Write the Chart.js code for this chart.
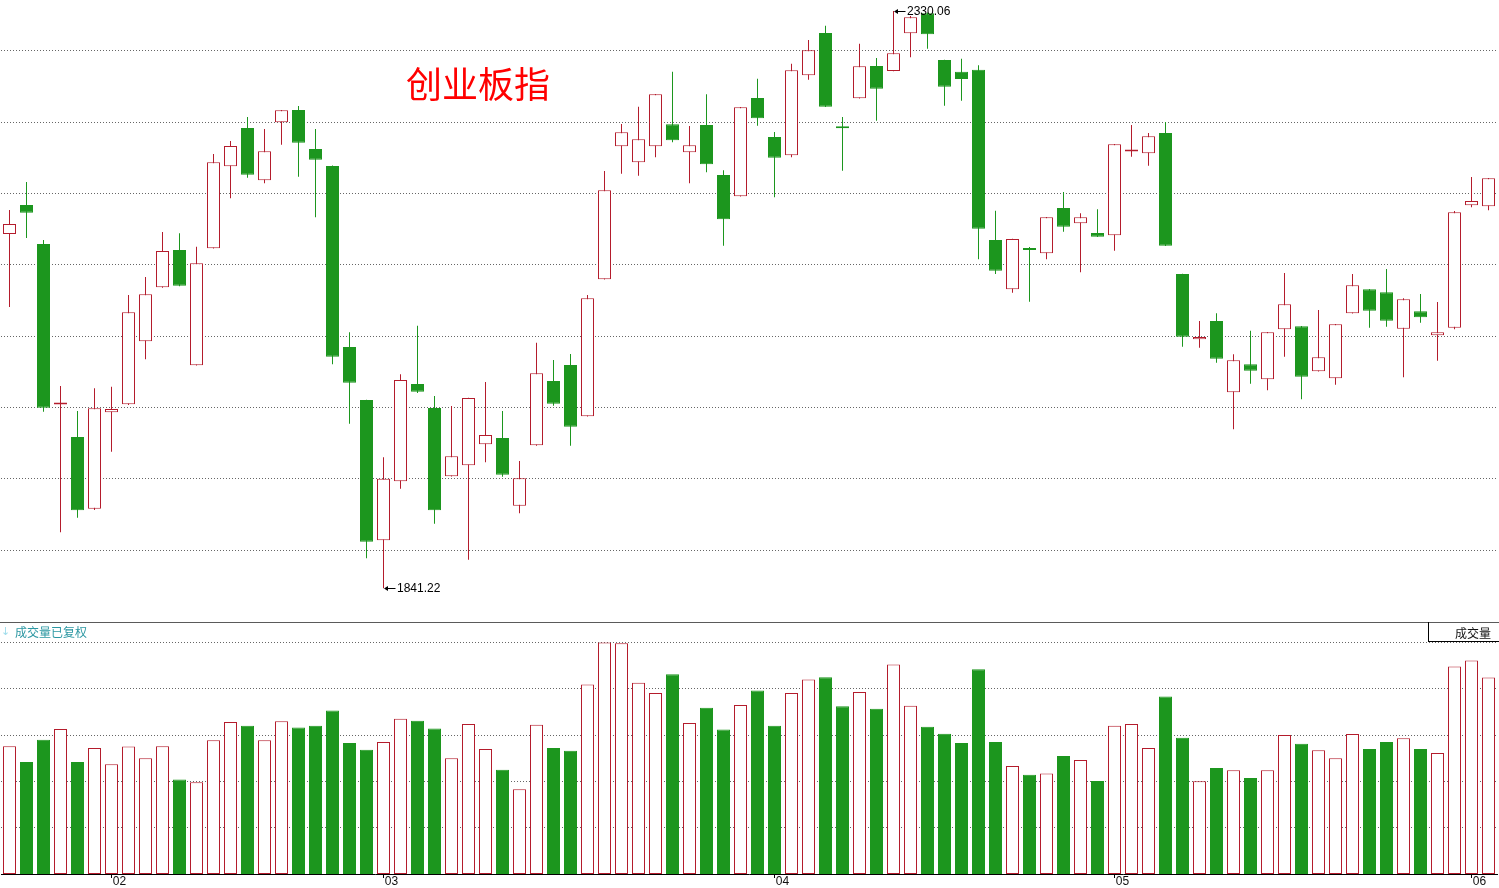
<!DOCTYPE html>
<html>
<head>
<meta charset="utf-8">
<title>创业板指</title>
<script src="https://cdn.jsdelivr.net/npm/chart.js@4/dist/chart.umd.min.js"></script>
<style>
  body { margin: 0; background: #fff; }
  #wrap { position: relative; width: 1499px; height: 888px; overflow: hidden; }
  #price { position: absolute; left: 0; top: 0; }
  #vol { position: absolute; left: 0; top: 622px; }
  #sep { position: absolute; left: 0; top: 622px; width: 1499px; height: 1px; background: #5a5a5a; }
  #title { position: absolute; left: 406px; top: 64px; font: 36px/36px "Noto Sans CJK SC"; color: #f00; white-space: nowrap; }
  #volname { position: absolute; left: 15px; top: 626px; font: 12px/12px "Noto Sans CJK SC"; color: #2b97a2; white-space: nowrap; }
  #volicon { position: absolute; left: 1px; top: 626px; font: 11px/12px "DejaVu Sans"; color: #9fdceb; }
  #volbox { position: absolute; left: 1428px; top: 622px; width: 71px; height: 20px; box-sizing: border-box;
            border-left: 1px solid #000; border-bottom: 1px solid #000; }
  #volbox span { position: absolute; right: 8px; top: 5px; font: 12px/12px "Noto Sans CJK SC"; color: #111; }
</style>
</head>
<body>
<div id="wrap">
  <canvas id="price" width="1499" height="622"></canvas>
  <canvas id="vol" width="1499" height="266"></canvas>
  <div id="sep"></div>
  <div id="title">创业板指</div>
  <div id="volicon">↓</div>
  <div id="volname">成交量已复权</div>
  <div id="volbox"><span>成交量</span></div>
</div>
<script>
// daily candles
var opens = [2141.2, 2165.8, 2132.8, 1996.8, 1969.3, 1908.6, 1990.2, 1997.0, 2050.4, 2096.1,
  2127.7, 2030.0, 2129.1, 2198.6, 2231.0, 2186.7, 2235.8, 2246.2, 2213.2, 2198.8,
  2045.5, 2000.6, 1881.8, 1931.8, 2014.2, 1993.9, 1936.0, 1945.4, 1963.1, 1968.5,
  1911.1, 1962.3, 2016.7, 2030.3, 1986.9, 2102.9, 2215.5, 2201.9, 2215.5, 2234.1,
  2210.4, 2233.5, 2191.2, 2173.1, 2256.4, 2223.4, 2207.9, 2275.6, 2311.4, 2231.2,
  2256.1, 2283.5, 2279.3, 2311.2, 2328.1, 2288.6, 2278.7, 2280.4, 2136.1, 2094.4,
  2128.1, 2124.9, 2163.2, 2150.3, 2142.1, 2140.1, 2211.0, 2209.6, 2226.8, 2107.4,
  2052.1, 2067.6, 2007.2, 2030.9, 2018.2, 2060.5, 2063.1, 2025.0, 2019.0, 2074.1,
  2094.4, 2091.9, 2061.0, 2075.8, 2055.4, 2061.9, 2165.5, 2164.7];

var highs = [2161.5, 2185.3, 2136.1, 2012.5, 1991.3, 2010.6, 2011.9, 2089.6, 2104.8, 2142.9,
  2141.8, 2130.5, 2209.0, 2220.0, 2240.3, 2230.1, 2246.2, 2249.6, 2230.1, 2199.2,
  2058.0, 2000.9, 1952.1, 2022.4, 2063.6, 2004.0, 1995.6, 2002.6, 2015.9, 1991.3,
  1949.0, 2049.2, 2034.5, 2039.6, 2089.6, 2194.6, 2234.4, 2249.0, 2259.7, 2278.7,
  2232.7, 2259.5, 2195.2, 2248.8, 2272.7, 2227.6, 2285.4, 2305.5, 2317.6, 2240.3,
  2302.4, 2290.3, 2330.06, 2325.8, 2328.8, 2288.8, 2289.7, 2284.1, 2161.0, 2137.2,
  2130.2, 2155.6, 2176.8, 2158.8, 2162.1, 2217.4, 2233.5, 2226.8, 2236.1, 2107.6,
  2067.6, 2074.1, 2039.4, 2059.3, 2058.2, 2108.2, 2063.3, 2076.9, 2065.0, 2107.4,
  2094.6, 2111.6, 2086.8, 2090.4, 2083.6, 2160.7, 2189.5, 2188.6];

var lows = [2079.4, 2137.8, 1990.7, 1888.6, 1901.0, 1907.5, 1956.9, 1996.5, 2035.1, 2095.8,
  2097.0, 2029.8, 2128.9, 2171.5, 2188.9, 2184.2, 2216.8, 2189.7, 2155.4, 2030.9,
  1980.6, 1866.6, 1841.22, 1925.5, 2006.6, 1895.9, 1935.8, 1865.4, 1947.9, 1935.7,
  1904.7, 1962.0, 1995.8, 1962.0, 1986.6, 2102.6, 2192.3, 2190.6, 2206.2, 2218.9,
  2184.2, 2193.5, 2131.3, 2172.9, 2232.9, 2172.3, 2206.2, 2271.9, 2248.8, 2194.8,
  2255.9, 2237.2, 2279.0, 2290.9, 2298.1, 2249.9, 2254.1, 2119.8, 2107.4, 2091.5,
  2083.9, 2119.8, 2143.2, 2108.8, 2138.7, 2127.1, 2206.7, 2199.1, 2131.1, 2045.8,
  2044.9, 2032.2, 1975.8, 2014.5, 2008.9, 2037.3, 2001.2, 2024.7, 2013.6, 2073.9,
  2061.9, 2062.7, 2019.9, 2066.1, 2033.9, 2060.5, 2163.8, 2161.3];

var closes = [2149.7, 2159.3, 1994.1, 1997.3, 1907.3, 1993.6, 1993.0, 2074.9, 2090.2, 2126.8,
  2097.4, 2116.4, 2201.9, 2215.7, 2191.4, 2211.3, 2246.0, 2218.5, 2204.1, 2037.3,
  2015.3, 1880.7, 1934.0, 2017.6, 2007.7, 1907.3, 1953.0, 2002.4, 1971.0, 1937.4,
  1934.4, 2023.3, 1997.5, 1978.0, 2086.8, 2178.2, 2227.3, 2221.4, 2259.5, 2220.6,
  2216.3, 2200.2, 2153.7, 2248.5, 2239.2, 2205.8, 2279.8, 2296.8, 2249.0, 2230.8,
  2283.2, 2264.3, 2294.2, 2324.7, 2310.3, 2266.0, 2272.5, 2145.7, 2110.1, 2137.0,
  2127.7, 2155.4, 2147.4, 2155.4, 2138.9, 2217.2, 2211.4, 2224.0, 2131.3, 2054.3,
  2054.0, 2035.6, 2034.3, 2025.5, 2058.0, 2081.7, 2020.4, 2036.8, 2064.8, 2097.8,
  2076.3, 2067.8, 2085.9, 2070.7, 2058.0, 2159.6, 2169.2, 2188.4];

var volumes = [2.76, 2.42, 2.90, 3.13, 2.42, 2.72, 2.37, 2.75, 2.50, 2.76,
  2.04, 1.98, 2.89, 3.28, 3.20, 2.89, 3.30, 3.16, 3.20, 3.53,
  2.83, 2.68, 2.85, 3.35, 3.31, 3.14, 2.50, 3.24, 2.70, 2.25,
  1.83, 3.22, 2.72, 2.66, 4.09, 5.00, 4.98, 4.13, 3.91, 4.31,
  3.26, 3.59, 3.12, 3.65, 3.96, 3.20, 3.91, 4.20, 4.25, 3.62,
  3.93, 3.57, 4.52, 3.63, 3.18, 3.03, 2.83, 4.42, 2.85, 2.33,
  2.14, 2.17, 2.55, 2.46, 2.01, 3.20, 3.24, 2.72, 3.83, 2.94,
  2.00, 2.29, 2.24, 2.07, 2.24, 3.00, 2.81, 2.67, 2.50, 3.02,
  2.70, 2.85, 2.93, 2.70, 2.61, 4.48, 4.61, 4.24];

// month marks on the bottom axis (candle index -> label)
var tickIndex = [6, 22, 45, 65, 86];
var tickText = ['02', '03', '04', '05', '06'];

// unlabelled price grid levels and volume grid levels
var priceGrid = [2296.2, 2235.8, 2175.4, 2115.1, 2054.7, 1994.3, 1933.9, 1873.6];
var volGrid = [1, 2, 3, 4, 5];

var RED = '#b41c2c';
var GREEN = '#1c961e';
var GRID = '#666666';

Chart.defaults.font.family = '"Liberation Sans", Arial, sans-serif';
Chart.defaults.animation = false;

var days = opens.map(function(o, i) { return i; });
var up = opens.map(function(o, i) { return closes[i] >= o; });

var bodies = [], wicks = [];
for (var i = 0; i < opens.length; i++) {
  bodies.push([opens[i], closes[i]]);
  wicks.push([lows[i], highs[i]]);
}

function drawTag(ctx, x, y, text) {
  var yy = Math.round(y) + 0.5;
  ctx.save();
  ctx.strokeStyle = '#000';
  ctx.fillStyle = '#000';
  ctx.lineWidth = 1;
  ctx.beginPath();
  ctx.moveTo(x + 3, yy);
  ctx.lineTo(x + 12, yy);
  ctx.stroke();
  ctx.beginPath();
  ctx.moveTo(x + 0.5, yy);
  ctx.lineTo(x + 4.5, yy - 2.5);
  ctx.lineTo(x + 4.5, yy + 2.5);
  ctx.closePath();
  ctx.fill();
  ctx.font = '12px "Liberation Sans"';
  ctx.textBaseline = 'middle';
  ctx.fillText(text, x + 13.5, yy);
  ctx.restore();
}

// marks the highest high and lowest low
var extremeTags = {
  id: 'extremeTags',
  afterDatasetsDraw: function(chart) {
    var xs = chart.scales.x, ys = chart.scales.y;
    var hi = highs.indexOf(Math.max.apply(null, highs));
    var lo = lows.indexOf(Math.min.apply(null, lows));
    drawTag(chart.ctx, xs.getPixelForValue(hi), ys.getPixelForValue(highs[hi]), highs[hi].toFixed(2));
    drawTag(chart.ctx, xs.getPixelForValue(lo), ys.getPixelForValue(lows[lo]), lows[lo].toFixed(2));
  }
};

var priceChart = new Chart(document.getElementById('price'), {
  type: 'bar',
  data: {
    labels: days,
    datasets: [
      {
        label: 'body',
        data: bodies,
        order: 1,
        grouped: false,
        barThickness: 13,
        minBarLength: 2,
        inflateAmount: 0,
        borderSkipped: false,
        borderWidth: 1,
        borderColor: up.map(function(u) { return u ? RED : GREEN; }),
        backgroundColor: up.map(function(u) { return u ? '#fff' : GREEN; })
      },
      {
        label: 'wick',
        data: wicks,
        order: 2,
        grouped: false,
        barThickness: 1,
        inflateAmount: 0,
        borderWidth: 0,
        backgroundColor: up.map(function(u) { return u ? RED : GREEN; })
      }
    ]
  },
  options: {
    responsive: false,
    layout: { padding: { left: 1, right: 2, top: 0, bottom: 0 } },
    plugins: { legend: { display: false }, tooltip: { enabled: false } },
    scales: {
      x: { display: false },
      y: {
        min: 1812.66,
        max: 2339.37,
        afterBuildTicks: function(scale) {
          scale.ticks = priceGrid.map(function(v) { return { value: v }; });
        },
        ticks: { display: false },
        grid: { color: GRID, lineWidth: 1, drawTicks: false },
        border: { display: false, dash: [1, 2] }
      }
    }
  },
  plugins: [extremeTags]
});

var volChart = new Chart(document.getElementById('vol'), {
  type: 'bar',
  data: {
    labels: days,
    datasets: [{
      label: '成交量',
      data: volumes,
      barThickness: 13,
      inflateAmount: 0,
      borderSkipped: false,
      borderWidth: 1,
      borderColor: up.map(function(u) { return u ? RED : GREEN; }),
      backgroundColor: up.map(function(u) { return u ? '#fff' : GREEN; })
    }]
  },
  options: {
    responsive: false,
    layout: { padding: { left: 1, right: 2, top: 0, bottom: 2 } },
    plugins: { legend: { display: false }, tooltip: { enabled: false } },
    scales: {
      x: {
        grid: {
          offset: false,
          drawOnChartArea: false,
          tickLength: 4,
          color: function(c) { return tickIndex.indexOf(c.index) < 0 ? 'rgba(0,0,0,0)' : '#000'; }
        },
        border: { display: true, color: '#000', width: 1 },
        ticks: {
          autoSkip: false,
          maxRotation: 0,
          padding: -2,
          labelOffset: 8,
          color: '#111',
          font: { size: 12, lineHeight: 1 },
          callback: function(v, i) {
            var k = tickIndex.indexOf(i);
            return k < 0 ? '' : tickText[k];
          }
        }
      },
      y: {
        min: 0,
        max: 5.44,
        afterBuildTicks: function(scale) {
          scale.ticks = volGrid.map(function(v) { return { value: v }; });
        },
        ticks: { display: false },
        grid: { color: GRID, lineWidth: 1, drawTicks: false },
        border: { display: false, dash: [1, 2] }
      }
    }
  }
});
</script>
</body>
</html>
